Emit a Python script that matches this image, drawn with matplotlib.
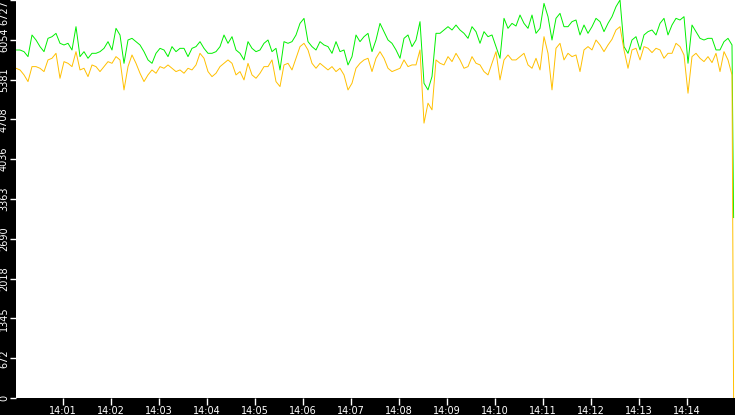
import numpy as np
import matplotlib
matplotlib.use('Agg')
import matplotlib.pyplot as plt

# samples every 5 s starting 14:00:01 (seconds after 14:00:00), last point is the partial one
start_sec = 1
step_sec = 5

green = [5882, 5882, 5854, 5770, 6135, 6051, 5939, 5854, 6079, 6107,
         6163, 5995, 5967, 5995, 5882, 6276, 5770, 5854, 5742, 5826,
         5826, 5854, 5910, 6023, 5882, 6248, 6135, 5657, 6051, 6079,
         6023, 5967, 5854, 5714, 5657, 5826, 5910, 5882, 5770, 5939,
         5854, 5910, 5910, 5770, 5910, 5939, 6023,
         5910, 5826, 5826, 5854, 5939, 6135, 5995, 6107, 5882, 5826,
         5714, 6023, 5910, 5854, 5882, 5995, 6051, 5854, 5910, 5545,
         6023, 5995, 6023, 6135, 6332, 6416, 6023, 5939, 5882, 6023,
         5967, 5939, 5826, 6023, 5854, 5882, 5629, 5770, 6135, 6023,
         6107, 6163, 5854, 6051, 6332,
         6192, 6051, 5995, 5883, 5742, 6079, 6136, 5939, 6051, 6361,
         5320, 5208, 5433, 6164, 6164, 6220, 6276, 6220, 6304, 6220,
         6164, 6079, 6276, 6192, 5995, 6192, 6107, 6136, 5939, 5742,
         6417, 6248, 6332, 6287, 6473, 6332, 6248, 6473, 6164, 6248,
         6670, 6445, 6051, 6417, 6501,
         6276, 6276, 6361, 6389, 6136, 6304, 6164, 6276, 6417, 6361,
         6192, 6332, 6445, 6614, 6727, 5939, 5826, 6051, 6107, 5883,
         6136, 6192, 6220, 6136, 6332, 6417, 6136, 6304, 6417, 6389,
         6445, 5658, 6304, 6192, 6079, 6051, 6079, 6079, 5883, 5883,
         6023, 6079, 5967,
         3050]

orange = [5573, 5545, 5461, 5348, 5601, 5601, 5573, 5517, 5714, 5742,
          5826, 5404, 5685, 5657, 5601, 5854, 5545, 5573, 5432, 5629,
          5601, 5517, 5601, 5685, 5657, 5770, 5714, 5207, 5601, 5798,
          5657, 5489, 5348, 5461, 5545, 5489, 5601, 5573, 5629, 5573,
          5517, 5545, 5489, 5573, 5545, 5629, 5826,
          5742, 5517, 5432, 5489, 5601, 5657, 5714, 5657, 5461, 5517,
          5376, 5657, 5461, 5404, 5489, 5601, 5601, 5714, 5348, 5264,
          5629, 5657, 5545, 5742, 5939, 5995, 5882, 5657, 5573, 5657,
          5601, 5545, 5601, 5517, 5573, 5461, 5207, 5320, 5573, 5657,
          5714, 5742, 5517, 5742, 5854,
          5742, 5573, 5517, 5545, 5573, 5714, 5601, 5630, 5630, 5883,
          4646, 4983, 4870, 5714, 5658, 5630, 5770, 5686, 5826, 5714,
          5573, 5601, 5770, 5658, 5630, 5517, 5461, 5658, 5854, 5377,
          5714, 5798, 5714, 5714, 5770, 5826, 5630, 5573, 5742, 5545,
          6107, 5826, 5208, 5911, 5995,
          5714, 5826, 5770, 5798, 5517, 5883, 5939, 5883, 6051, 5967,
          5854, 5967, 6063, 6220, 6276, 5883, 5573, 5883, 5911, 5714,
          5939, 5911, 5838, 5911, 5883, 5742, 5826, 5826, 5995, 5939,
          5798, 5152, 5770, 5826, 5742, 5686, 5770, 5669, 5826, 5517,
          5854, 5714, 5461,
          0]

ytick_vals = [0, 672, 1345, 2018, 2690, 3363, 4036, 4708, 5381, 6054, 6727]
xtick_labels = ['14:01', '14:02', '14:03', '14:04', '14:05', '14:06', '14:07',
                '14:08', '14:09', '14:10', '14:11', '14:12', '14:13', '14:14']

n = len(green) - 1
t = list(start_sec + step_sec * np.arange(n)) + [start_sec + step_sec * (n - 1) + 2]
xtick_secs = [60 * (i + 1) for i in range(len(xtick_labels))]

fig = plt.figure(figsize=(7.35, 4.15), dpi=100, facecolor='black')
ax = fig.add_axes([16 / 735, 17 / 415, 719 / 735, 398 / 415])
ax.set_facecolor('white')
for s in ax.spines.values():
    s.set_visible(False)

ax.plot(t, green, color='#00f000', lw=0.7)
ax.plot(t, orange, color='#ffc000', lw=0.7)

ax.set_ylim(0, 6727)
ax.set_xlim(start_sec, start_sec + 719 / 0.8)

ax.set_yticks(ytick_vals)
ax.set_yticklabels([str(v) for v in ytick_vals], rotation=90, va='center')
ax.get_yticklabels()[-1].set_va('top')
ax.set_xticks(xtick_secs)
ax.set_xticklabels(xtick_labels)

ax.tick_params(axis='y', colors='white', length=4, width=1, pad=1, labelsize=7)
ax.tick_params(axis='x', colors='white', length=5, width=1, pad=1, labelsize=7)

fig.savefig('out.png', dpi=100, facecolor='black')
